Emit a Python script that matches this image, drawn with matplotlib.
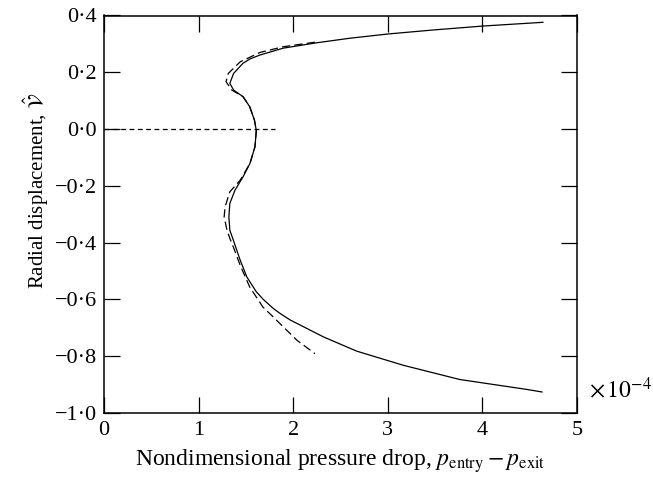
import matplotlib
matplotlib.use("Agg")
import matplotlib.pyplot as plt

plt.rcParams['font.family'] = ['Liberation Serif', 'DejaVu Serif']
plt.rcParams['mathtext.fontset'] = 'stix'
plt.rcParams['lines.scale_dashes'] = False

# Solid curve (full model), ordered along the curve
solid_x = [4.64, 4.01, 3.48, 3.005, 2.60, 2.25, 1.895, 1.65, 1.543, 1.47, 1.37, 1.33, 1.37,
           1.47, 1.54, 1.59, 1.61, 1.596, 1.543, 1.47, 1.385, 1.33, 1.32, 1.33, 1.367, 1.44,
           1.51, 1.61, 1.684, 1.79, 1.86, 1.966, 2.32, 2.67, 3.165, 3.76, 4.47, 4.63]
solid_y = [0.376, 0.363, 0.349, 0.335, 0.320, 0.304, 0.285, 0.261, 0.247, 0.232, 0.196,
           0.161, 0.1375, 0.114, 0.079, 0.032, -0.005, -0.062, -0.121, -0.168, -0.215,
           -0.262, -0.309, -0.356, -0.391, -0.462, -0.521, -0.573, -0.600, -0.632, -0.649,
           -0.672, -0.732, -0.782, -0.832, -0.882, -0.917, -0.926]

# Dashed curve (approximate model)
dash_x = [2.23, 1.895, 1.65, 1.44, 1.314, 1.29, 1.35, 1.47, 1.54, 1.59, 1.61, 1.596, 1.543,
          1.44, 1.33, 1.28, 1.27, 1.30, 1.33, 1.367, 1.44, 1.54, 1.68, 1.79, 1.86, 2.04, 2.23]
dash_y = [0.306, 0.290, 0.270, 0.237, 0.196, 0.167, 0.1375, 0.114, 0.079, 0.032, -0.005,
          -0.062, -0.121, -0.18, -0.221, -0.274, -0.309, -0.356, -0.385, -0.415, -0.48,
          -0.556, -0.627, -0.662, -0.685, -0.744, -0.791]

# Horizontal dashed line (undeformed state)
base_x = [0.0, 1.81]
base_y = [0.0, 0.0]

xticks = [0, 1, 2, 3, 4, 5]
xticklabels = ['0', '1', '2', '3', '4', '5']
yticks = [0.4, 0.2, 0.0, -0.2, -0.4, -0.6, -0.8, -1.0]
yticklabels = ['0·4', '0·2', '0·0', '−0·2', '−0·4', '−0·6', '−0·8', '−1·0']

fig = plt.figure(figsize=(6.53, 4.79), dpi=100)
ax = fig.add_axes([104/653, 1-413/479, (577-104)/653, (413-15.5)/479])

ax.plot(solid_x, solid_y, color='black', lw=0.9, solid_joinstyle='round')
ax.plot(dash_x, dash_y, color='black', lw=0.9, dashes=(6, 3))
ax.plot(base_x, base_y, color='black', lw=0.9, dashes=(3.5, 2.5))

ax.set_xlim(0, 5)
ax.set_ylim(-1.0, 0.4)
ax.set_xticks(xticks)
ax.set_xticklabels(xticklabels)
ax.set_yticks(yticks)
ax.set_yticklabels(yticklabels)

ax.tick_params(direction='in', length=11.5, width=0.9, top=True, right=True,
               labelsize=16, pad=5)
ax.tick_params(axis='x', pad=6)
for s in ax.spines.values():
    s.set_linewidth(1.1)

ax.set_xlabel(r'Nondimensional pressure drop, $p_{\mathrm{entry}} - p_{\mathrm{exit}}$',
              fontsize=17, labelpad=5)
ax.set_ylabel(r'Radial displacement, $\hat{\mathcal{V}}$', fontsize=15)
ax.yaxis.set_label_coords(-0.112, 0.56)

fig.text(589/653, 1-390/479, r'$\times\,10^{-4}$', fontsize=17, va='center', ha='left')

fig.savefig('out.png', dpi=100)
